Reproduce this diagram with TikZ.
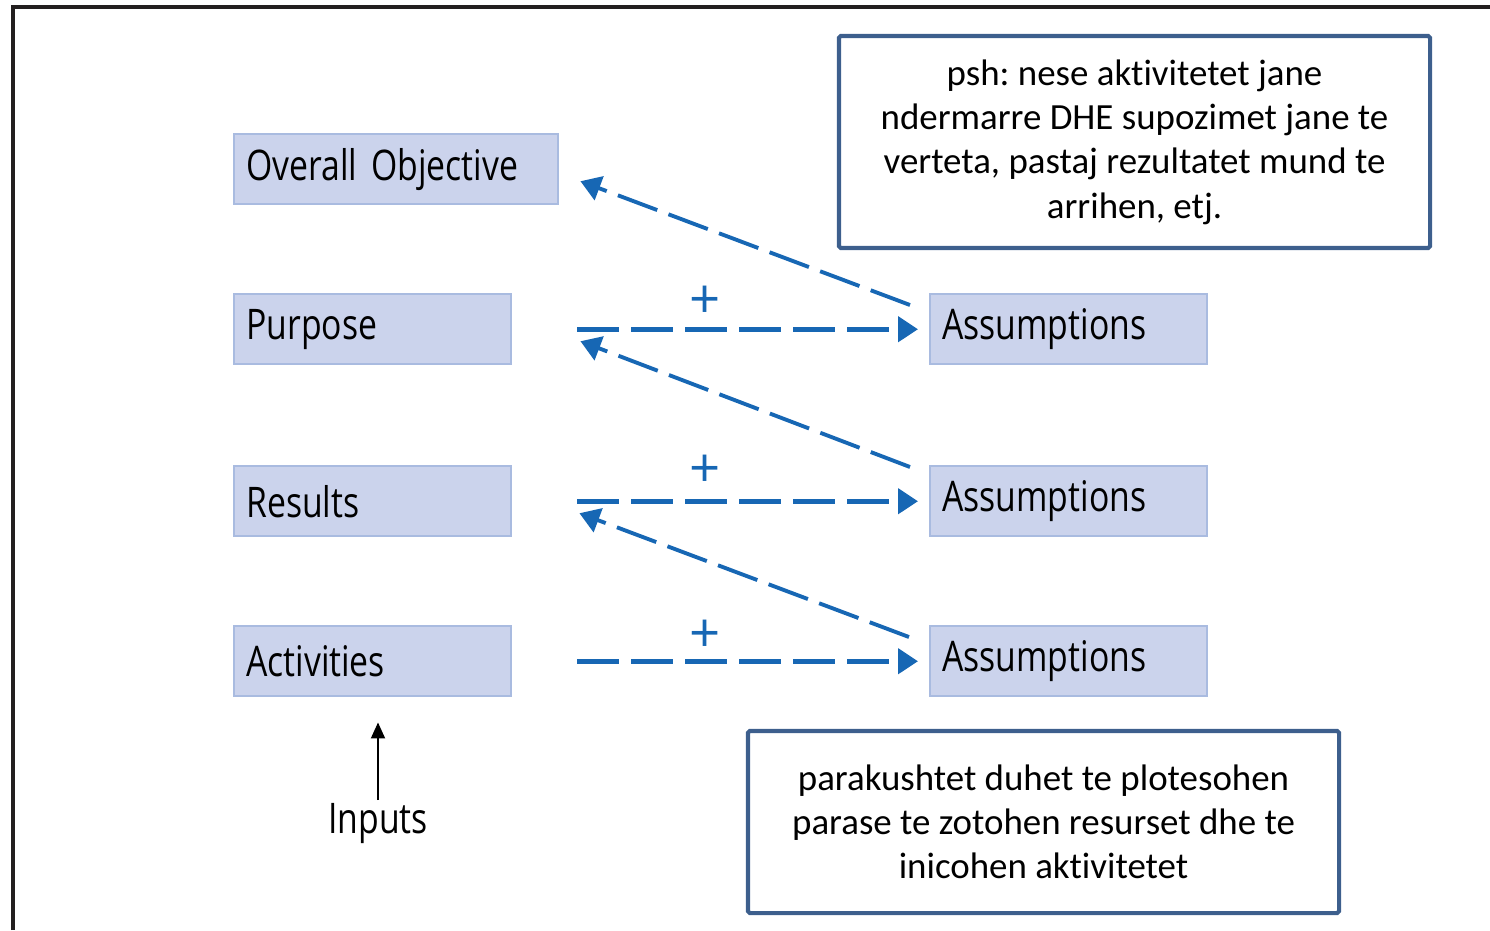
\documentclass[tikz,border=0pt]{standalone}
\usepackage{fontspec}
\usepackage{tikz}
\usetikzlibrary{arrows.meta,calc}
\newfontfamily\lblfont[FakeStretch=0.8]{Open Sans}
\newfontfamily\notefont[Ligatures={NoCommon,NoContextual,NoDiscretionary},Contextuals=NoAlternate]{Carlito}
\frenchspacing
\definecolor{boxfill}{HTML}{CBD3EC}
\definecolor{boxline}{HTML}{A9BBE0}
\definecolor{arrblue}{HTML}{1767B4}
\definecolor{noteline}{HTML}{3D5F8D}
\definecolor{framecol}{HTML}{231F20}
\tikzstyle{level} = [draw=boxline,fill=boxfill,line width=1.4pt,anchor=north west,minimum height=14mm,inner xsep=2.4mm,align=left,font=\lblfont\fontsize{24}{28}\selectfont]
\tikzstyle{note}  = [draw=noteline,line width=2.3pt,rounded corners=1pt,minimum width=118.2mm,align=center,font=\notefont\fontsize{21}{25.2}\selectfont]
\tikzstyle{link}  = [arrblue,line width=2.6pt,dash pattern=on 8.4mm off 2.4mm,-{Triangle[length=4mm,width=5mm]}]
\tikzstyle{plus}  = [text=arrblue,inner sep=0pt,font=\fontspec{Open Sans}\fontsize{31}{31}\selectfont]

\begin{document}
\begin{tikzpicture}[x=0.2mm,y=-0.2mm]
\useasboundingbox (0,0) rectangle (1490,930);
\draw[framecol,line width=2.3pt] (13,930) -- (13,7) -- (1490,7);

% left column
\node[level,text width=60mm]   (objective)  at (233,133) {Overall Objective};
\node[level,text width=50.6mm] (purpose)    at (233,293) {Purpose};
\node[level,text width=50.6mm] (results)    at (233,465) {Results};
\node[level,text width=50.6mm] (activities) at (233,625) {Activities};

% right column
\node[level,text width=50.6mm] (assP) at (929,293) {Assumptions};
\node[level,text width=50.6mm] (assR) at (929,465) {Assumptions};
\node[level,text width=50.6mm] (assA) at (929,625) {Assumptions};

% notes
\node[note,minimum height=42.4mm] (note1) at (1134.5,142)
  {psh: nese aktivitetet jane\\ndermarre DHE supozimet jane te\\verteta, pastaj rezultatet mund te\\arrihen, etj.};
\node[note,minimum height=36.4mm] (note2) at (1043.5,822)
  {parakushtet duhet te plotesohen\\parase te zotohen resurset dhe te\\inicohen aktivitetet};

% plus signs
\node[plus] (plusP) at (705,302) {+};
\node[plus] (plusR) at (705,471) {+};
\node[plus] (plusA) at (705,636) {+};

% horizontal links
\draw[link,shorten <=13mm,shorten >=2.2mm] (purpose.east)    -- (assP.west);
\draw[link,shorten <=13mm,shorten >=2.2mm] (results.east)    -- (assR.west);
\draw[link,shorten <=13mm,shorten >=2.2mm] (activities.east) -- (assA.west);

% diagonal links
\coordinate (tailP) at ($(assP.north west)+(-19,12)$);
\coordinate (tailR) at ($(assR.north west)+(-19,2)$);
\coordinate (tailA) at ($(assA.north west)+(-20,12)$);
\coordinate (tipO)  at ($(objective.east)+(21,12)$);
\coordinate (tipP)  at ($(purpose.east)+(68,12)$);
\coordinate (tipR)  at ($(results.east)+(67,12)$);
\draw[link,line width=2.2pt] (tailP) -- (tipO);
\draw[link,line width=2.2pt] (tailR) -- (tipP);
\draw[link,line width=2.2pt] (tailA) -- (tipR);

% inputs
\node[font=\lblfont\fontsize{24}{28}\selectfont] (inputs) at (378,823) {Inputs};
\draw[line width=1.1pt,-{Triangle[length=3.2mm,width=2.8mm]},shorten <=4.6mm,shorten >=5mm]
  (inputs.center) -- (inputs.center |- activities.south);
\end{tikzpicture}
\end{document}
